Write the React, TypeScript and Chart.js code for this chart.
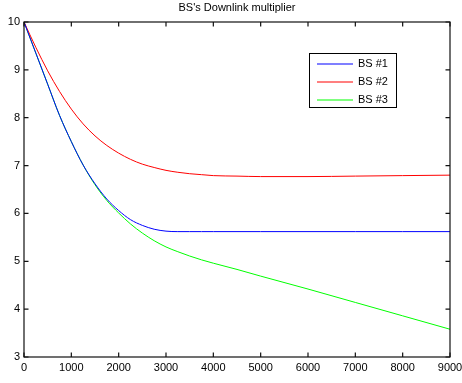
import { useEffect, useRef } from "react";
import { Chart, registerables } from "chart.js";

Chart.register(...registerables);

const TITLE = "BS's Downlink multiplier";
const xPositions = [0, 250, 500, 750, 1000, 1250, 1500, 1750, 2000, 2250, 2500, 2750, 3000, 3250, 3500, 3750, 4000, 4500, 5000, 6000, 7000, 8000, 9000];
const bs1 = [10, 9.35, 8.7, 8.05, 7.5, 7.01, 6.62, 6.3, 6.06, 5.87, 5.75, 5.67, 5.63, 5.62, 5.62, 5.62, 5.62, 5.62, 5.62, 5.62, 5.62, 5.62, 5.62];
const bs2 = [10, 9.47, 8.98, 8.55, 8.18, 7.87, 7.62, 7.42, 7.26, 7.13, 7.03, 6.96, 6.9, 6.86, 6.83, 6.81, 6.79, 6.78, 6.77, 6.77, 6.78, 6.79, 6.8];
const bs3 = [10, 9.35, 8.7, 8.05, 7.5, 7.01, 6.6, 6.27, 6.01, 5.78, 5.59, 5.43, 5.3, 5.2, 5.11, 5.03, 4.96, 4.83, 4.69, 4.42, 4.14, 3.86, 3.58];
const seriesLabels = ["BS #1", "BS #2", "BS #3"];
const seriesColors = ["#0000ff", "#ff0000", "#00ff00"];
const xTickValues = [0, 1000, 2000, 3000, 4000, 5000, 6000, 7000, 8000, 9000];
const yTickValues = [3, 4, 5, 6, 7, 8, 9, 10];

const FONT = '"Liberation Sans", Arial, Helvetica, sans-serif';

const framePlugin = {
  id: "matlabFrame",
  afterDatasetsDraw(chart: any) {
    const { ctx, chartArea } = chart;
    const { left, right, top, bottom } = chartArea;
    const xs = chart.scales.x;
    const ys = chart.scales.y;
    ctx.save();
    ctx.strokeStyle = "#111";
    ctx.lineWidth = 1.2;
    ctx.strokeRect(left, top, right - left, bottom - top);
    const tl = 4.5;
    ctx.beginPath();
    xTickValues.forEach((v) => {
      const px = xs.getPixelForValue(v);
      ctx.moveTo(px, bottom);
      ctx.lineTo(px, bottom - tl);
      ctx.moveTo(px, top);
      ctx.lineTo(px, top + tl);
    });
    yTickValues.forEach((v) => {
      const py = ys.getPixelForValue(v);
      ctx.moveTo(left, py);
      ctx.lineTo(left + tl, py);
      ctx.moveTo(right, py);
      ctx.lineTo(right - tl, py);
    });
    ctx.stroke();

    // title
    ctx.fillStyle = "#000";
    ctx.font = "11px " + FONT;
    ctx.textAlign = "center";
    ctx.textBaseline = "middle";
    ctx.fillText(TITLE, (left + right) / 2, 8);

    // legend
    const bx = 309, by = 53, bw = 87, bh = 54;
    ctx.fillStyle = "#fff";
    ctx.fillRect(bx, by, bw, bh);
    ctx.strokeStyle = "#000";
    ctx.lineWidth = 1;
    ctx.strokeRect(bx + 0.5, by + 0.5, bw, bh);
    const rows = [64, 82, 100];
    seriesLabels.forEach((label, i) => {
      const ry = rows[i];
      ctx.beginPath();
      ctx.strokeStyle = seriesColors[i];
      ctx.lineWidth = 1.2;
      ctx.moveTo(317, ry);
      ctx.lineTo(353, ry);
      ctx.stroke();
      ctx.fillStyle = "#000";
      ctx.textAlign = "left";
      ctx.textBaseline = "middle";
      ctx.font = "11px " + FONT;
      ctx.fillText(label, 358, ry);
    });
    ctx.restore();
  },
};

export default function App() {
  const canvasRef = useRef<HTMLCanvasElement | null>(null);

  useEffect(() => {
    document.body.style.margin = "0";
    const canvas = canvasRef.current;
    if (!canvas) return;
    const series = [bs1, bs2, bs3];
    const chart = new Chart(canvas, {
      type: "line",
      data: {
        datasets: series.map((vals, i) => ({
          label: seriesLabels[i],
          data: vals.map((v, j) => ({ x: xPositions[j], y: v })),
          borderColor: seriesColors[i],
          backgroundColor: seriesColors[i],
          borderWidth: 1,
          pointRadius: 0,
          fill: false,
          cubicInterpolationMode: "monotone",
        })),
      },
      options: {
        responsive: false,
        animation: false,
        devicePixelRatio: 1,
        layout: { padding: { top: 22, right: 12, left: 0, bottom: 0 } },
        plugins: {
          legend: { display: false },
          title: { display: false },
          tooltip: { enabled: false },
        },
        scales: {
          x: {
            type: "linear",
            min: 0,
            max: 9000,
            grid: { display: false, drawTicks: false },
            border: { display: false },
            ticks: {
              color: "#000",
              font: { family: FONT, size: 11 },
              padding: 4,
              maxRotation: 0,
              autoSkip: false,
              callback: (v: any) => String(v),
            },
            afterBuildTicks: (s: any) => {
              s.ticks = xTickValues.map((v) => ({ value: v }));
            },
            afterFit: (s: any) => {
              s.height = 26;
              s.paddingLeft = 0;
              s.paddingRight = 0;
            },
          },
          y: {
            type: "linear",
            min: 3,
            max: 10,
            grid: { display: false, drawTicks: false },
            border: { display: false },
            ticks: {
              color: "#000",
              font: { family: FONT, size: 11 },
              padding: 4,
              autoSkip: false,
              callback: (v: any) => String(v),
            },
            afterBuildTicks: (s: any) => {
              s.ticks = yTickValues.map((v) => ({ value: v }));
            },
            afterFit: (s: any) => {
              s.width = 24;
              s.paddingTop = 0;
              s.paddingBottom = 0;
            },
          },
        },
      },
      plugins: [framePlugin],
    });
    return () => chart.destroy();
  }, []);

  return (
    <div style={{ width: 462, height: 383, background: "#fff" }}>
      <canvas ref={canvasRef} width={462} height={383} style={{ display: "block" }} />
    </div>
  );
}
